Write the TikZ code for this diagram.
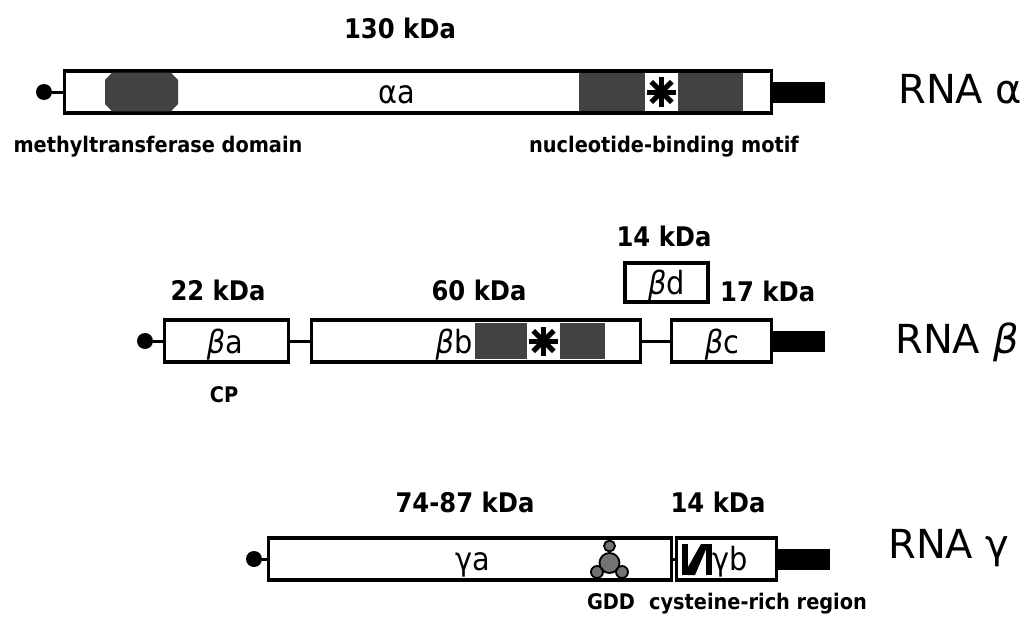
\documentclass[tikz,border=0pt]{standalone}
\usepackage{fontspec}
\setmainfont{DejaVu Sans}
\newfontfamily\condfont{DejaVu Sans Condensed}
\usetikzlibrary{positioning}
\newcommand{\motifstar}[1]{%
  \foreach \ang in {0,45,...,315} \draw[star] (#1) -- ++(\ang:14.5);}

\begin{document}
\begin{tikzpicture}[
  x=1pt, y=-1pt,
  orf/.style={draw, fill=white, line width=3.4pt, minimum height=42pt,
    inner sep=0pt},
  tail/.style={fill=black, minimum width=53pt, minimum height=21pt,
    inner sep=0pt, outer sep=0pt},
  capdot/.style={circle, fill=black, minimum size=16pt, inner sep=0pt},
  link/.style={line width=3pt},
  stipple/.style={fill=black!74},
  kda/.style={font=\condfont\bfseries\fontsize{27}{30}\selectfont,
    inner sep=0pt},
  note/.style={font=\condfont\bfseries\fontsize{21.5}{24}\selectfont,
    inner sep=0pt},
  orfname/.style={font=\condfont\fontsize{32}{36}\selectfont, inner sep=0pt,
    anchor=base},
  rna/.style={font=\fontsize{40}{44}\selectfont, anchor=base west,
    inner sep=0pt},
  star/.style={line width=5pt},
]
\useasboundingbox (0,0) rectangle (1028,618);

% ---- RNA alpha ----------------------------------------------------------
\node[capdot] (acap) at (44,92) {};
\node[orf, minimum width=707pt, anchor=west] (alpha) at (63,92) {};
\node[tail, right=-1pt of alpha] (atail) {};
\draw[link] (acap) -- (alpha);

\fill[stipple] (105,80) -- (112,72.7) -- (171,72.7) -- (178,80)
  -- (178,104) -- (171,111.3) -- (112,111.3) -- (105,104) -- cycle;
\fill[stipple] (579,72.7) rectangle (743,111.3);
\fill[white] (645,72.7) rectangle (678,111.3);
\motifstar{661.5,92}

\node[kda] (mw-a) at (400,28) {130 kDa};
\node[orfname] (lab-aa) at (397,103) {αa};
\node[note] (methyl) at (158,147) {methyltransferase domain};
\node[note] (ntb) at (664,147) {nucleotide-binding motif};
\node[rna] (rna-a) at (898,103) {RNA α};

% ---- RNA beta -----------------------------------------------------------
\node[capdot] (bcap) at (145,341) {};
\node[orf, minimum width=124pt, anchor=west] (ba) at (163,341) {};
\node[orf, minimum width=329pt, anchor=west] (bb) at (310,341) {};
\node[orf, minimum width=100pt, anchor=west] (bc) at (670,341) {};
\node[tail, right=-1pt of bc] (btail) {};
\node[orf, minimum width=83pt, minimum height=39pt] (bd) at (666.5,282.5) {};

\foreach \a/\b in {bcap/ba, ba/bb, bb/bc}
  \draw[link] (\a) -- (\b);

\fill[stipple] (475,322.7) rectangle (605,359.3);
\fill[white] (527,322.7) rectangle (560,359.3);
\motifstar{543.5,341}

\node[kda] (mw-ba) at (218,290) {22 kDa};
\node[kda] (mw-bb) at (479,290) {60 kDa};
\node[kda] (mw-bd) at (664,236) {14 kDa};
\node[kda, anchor=west] (mw-bc) at (720,291) {17 kDa};
\node[orfname] (lab-ba) at (225,353) {\textit{β}a};
\node[orfname] (lab-bb) at (454,353) {\textit{β}b};
\node[orfname] (lab-bc) at (722,353) {\textit{β}c};
\node[orfname] (lab-bd) at (666.5,294) {\textit{β}d};
\node[note] (cp) at (224,395) {CP};
\node[rna] (rna-b) at (895,353) {RNA \textit{β}};

% ---- RNA gamma ----------------------------------------------------------
\node[capdot] (gcap) at (254,559) {};
\node[orf, minimum width=403pt, anchor=west] (ga) at (267,559) {};
\node[orf, minimum width=100pt, anchor=west] (gb) at (675,559) {};
\node[tail, right=-1pt of gb] (gtail) {};

\foreach \a/\b in {gcap/ga, ga/gb}
  \draw[link] (\a) -- (\b);

% GDD motif and the cysteine-rich block
\filldraw[fill=black!55, line width=1.8pt]
  (609.5,546) circle (5.5) (597,572) circle (6) (622,572) circle (6)
  (609.5,563) circle (10);
\fill (682,544) rectangle (688,575);
\fill (688,575) -- (695,575) -- (707,547) -- (707,544) -- (701,544)
  -- (688,567) -- cycle;
\fill (706,544) rectangle (712,575);

\node[kda] (mw-ga) at (465,502) {74-87 kDa};
\node[kda] (mw-gb) at (718,502) {14 kDa};
\node[orfname] (lab-ga) at (473,570) {γa};
\node[orfname] (lab-gb) at (730,570) {γb};
\node[note] (gdd) at (611,602) {GDD};
\node[note] (cys) at (758,604) {cysteine-rich region};
\node[rna] (rna-g) at (888,558) {RNA γ};

\end{tikzpicture}
\end{document}
